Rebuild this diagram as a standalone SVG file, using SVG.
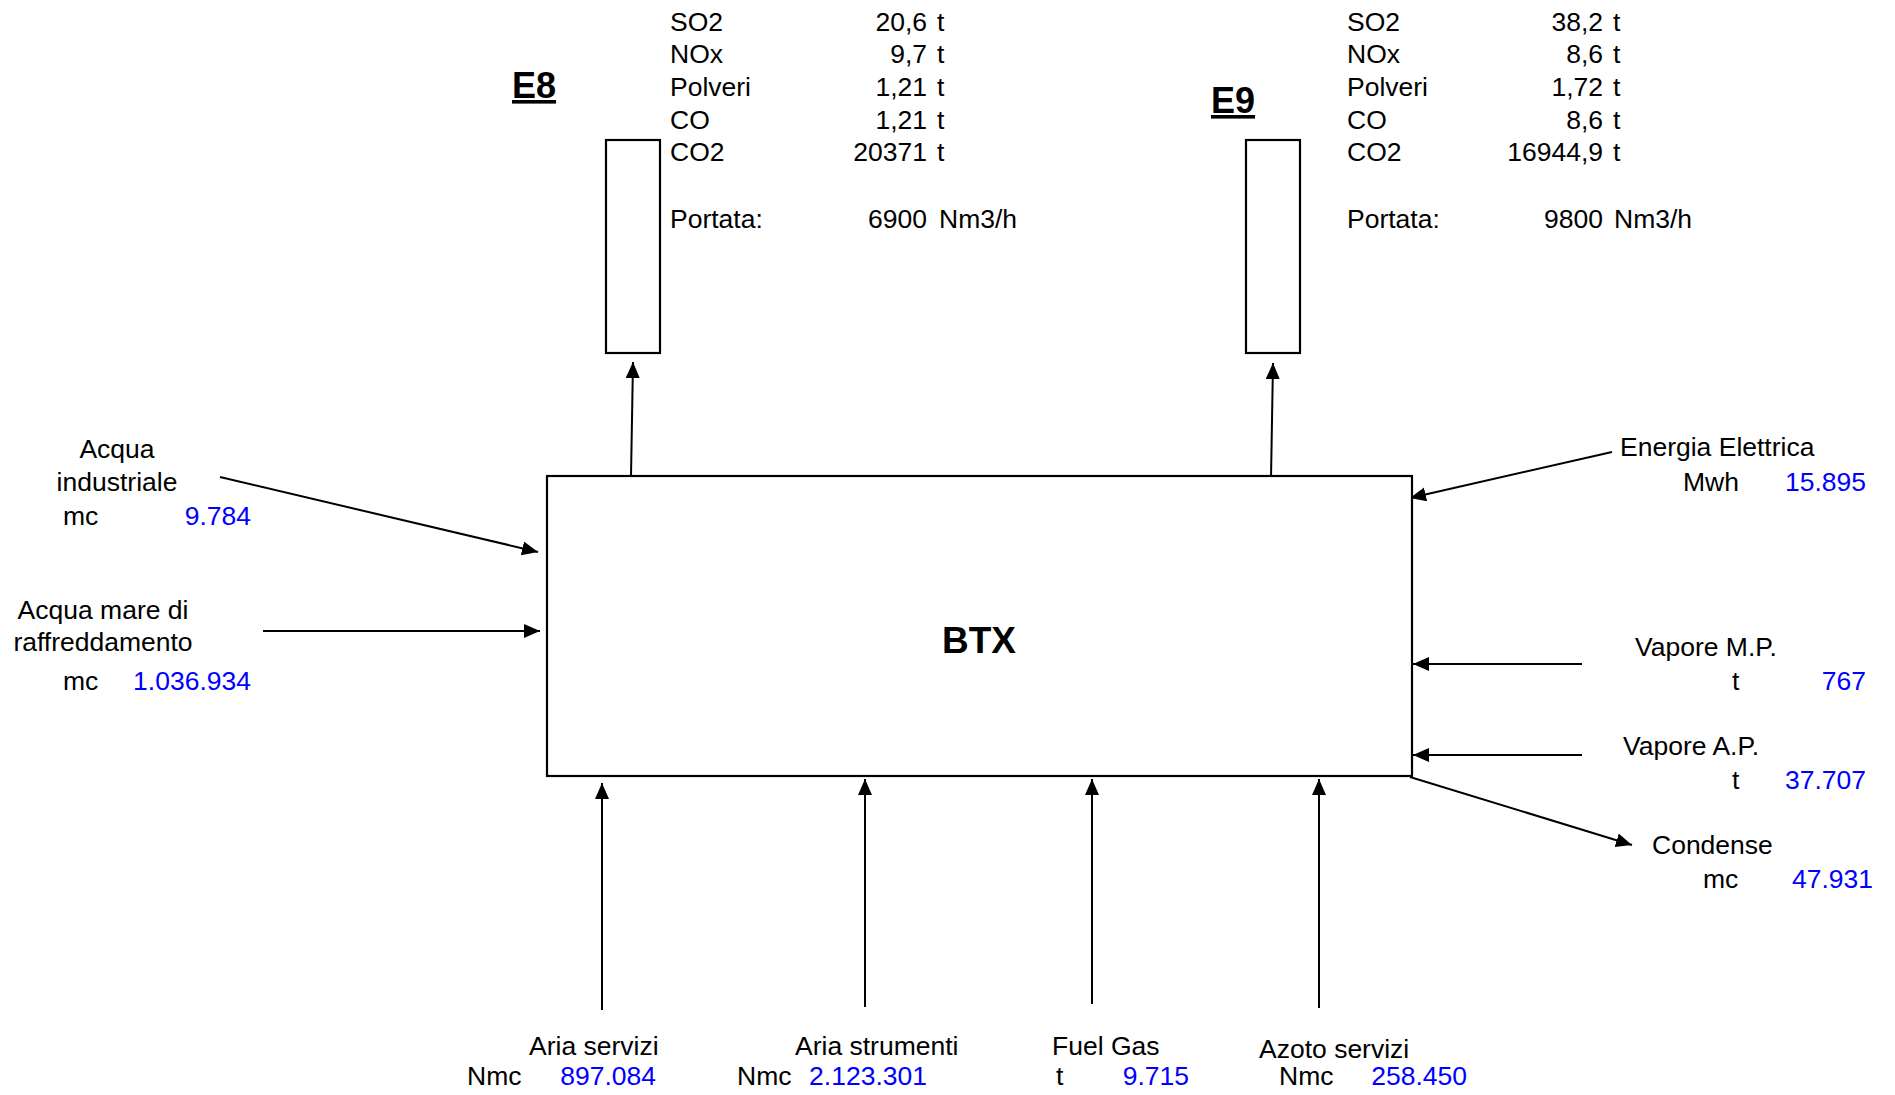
<svg xmlns="http://www.w3.org/2000/svg" width="1895" height="1095" viewBox="0 0 1895 1095">
<style>
text{font-family:"Liberation Sans",Arial,sans-serif;font-size:26.5px;fill:#000}
.v{fill:#0000ff}
.e{text-anchor:end}
.m{text-anchor:middle}
.h{font-weight:bold;font-size:36px;text-decoration:underline}
.box{fill:#fff;stroke:#000;stroke-width:2.2}
.c{stroke:#000;stroke-width:2;fill:none;marker-end:url(#ah)}
</style>
<defs>
<marker id="ah" markerUnits="userSpaceOnUse" markerWidth="18" markerHeight="16" refX="16" refY="7" orient="auto">
<path d="M0,0 L16,7 L0,14 z" fill="#000"/>
</marker>
</defs>
<rect width="1895" height="1095" fill="#fff"/>

<g id="connectors">
<line class="c" x1="631" y1="476" x2="633" y2="362"/>
<line class="c" x1="1271" y1="478" x2="1273" y2="363"/>
<line class="c" x1="220" y1="477" x2="538" y2="552"/>
<line class="c" x1="263" y1="631" x2="540" y2="631"/>
<line class="c" x1="1612" y1="452" x2="1410" y2="498"/>
<line class="c" x1="1582" y1="664" x2="1413" y2="664"/>
<line class="c" x1="1582" y1="755" x2="1413" y2="755"/>
<line class="c" x1="1410" y1="777" x2="1632" y2="845"/>
<line class="c" x1="602" y1="1010" x2="602" y2="783"/>
<line class="c" x1="865" y1="1007" x2="865" y2="779"/>
<line class="c" x1="1092" y1="1004" x2="1092" y2="779"/>
<line class="c" x1="1319" y1="1008" x2="1319" y2="779"/>
</g>

<g id="btx">
<rect class="box" x="547" y="476" width="865" height="300"/>
<text x="979" y="653" class="m" style="font-weight:bold;font-size:37px">BTX</text>
</g>

<g id="e8">
<rect class="box" x="606" y="140" width="54" height="213"/>
<text x="512" y="98" class="h">E8</text>
<text x="670" y="31">SO2</text><text x="927" y="31" class="e">20,6</text><text x="937" y="31">t</text>
<text x="670" y="63">NOx</text><text x="927" y="63" class="e">9,7</text><text x="937" y="63">t</text>
<text x="670" y="96">Polveri</text><text x="927" y="96" class="e">1,21</text><text x="937" y="96">t</text>
<text x="670" y="129">CO</text><text x="927" y="129" class="e">1,21</text><text x="937" y="129">t</text>
<text x="670" y="161">CO2</text><text x="927" y="161" class="e">20371</text><text x="937" y="161">t</text>
<text x="670" y="228">Portata:</text><text x="927" y="228" class="e">6900</text><text x="939" y="228">Nm3/h</text>
</g>

<g id="e9">
<rect class="box" x="1246" y="140" width="54" height="213"/>
<text x="1211" y="113" class="h">E9</text>
<text x="1347" y="31">SO2</text><text x="1603" y="31" class="e">38,2</text><text x="1613" y="31">t</text>
<text x="1347" y="63">NOx</text><text x="1603" y="63" class="e">8,6</text><text x="1613" y="63">t</text>
<text x="1347" y="96">Polveri</text><text x="1603" y="96" class="e">1,72</text><text x="1613" y="96">t</text>
<text x="1347" y="129">CO</text><text x="1603" y="129" class="e">8,6</text><text x="1613" y="129">t</text>
<text x="1347" y="161">CO2</text><text x="1603" y="161" class="e">16944,9</text><text x="1613" y="161">t</text>
<text x="1347" y="228">Portata:</text><text x="1603" y="228" class="e">9800</text><text x="1614" y="228">Nm3/h</text>
</g>

<g id="acqua-industriale">
<text x="117" y="458" class="m">Acqua</text>
<text x="117" y="491" class="m">industriale</text>
<text x="63" y="525">mc</text><text x="251" y="525" class="e v">9.784</text>
</g>

<g id="acqua-mare">
<text x="103" y="619" class="m">Acqua mare di</text>
<text x="103" y="651" class="m">raffreddamento</text>
<text x="63" y="690">mc</text><text x="251" y="690" class="e v">1.036.934</text>
</g>

<g id="energia-elettrica">
<text x="1620" y="456">Energia Elettrica</text>
<text x="1683" y="491">Mwh</text><text x="1866" y="491" class="e v">15.895</text>
</g>

<g id="vapore-mp">
<text x="1635" y="656">Vapore M.P.</text>
<text x="1732" y="690">t</text><text x="1866" y="690" class="e v">767</text>
</g>

<g id="vapore-ap">
<text x="1623" y="755">Vapore A.P.</text>
<text x="1732" y="789">t</text><text x="1866" y="789" class="e v">37.707</text>
</g>

<g id="condense">
<text x="1652" y="854">Condense</text>
<text x="1703" y="888">mc</text><text x="1873" y="888" class="e v">47.931</text>
</g>

<g id="aria-servizi">
<text x="529" y="1055">Aria servizi</text>
<text x="467" y="1085">Nmc</text><text x="656" y="1085" class="e v">897.084</text>
</g>

<g id="aria-strumenti">
<text x="795" y="1055">Aria strumenti</text>
<text x="737" y="1085">Nmc</text><text x="927" y="1085" class="e v">2.123.301</text>
</g>

<g id="fuel-gas">
<text x="1052" y="1055">Fuel Gas</text>
<text x="1056" y="1085">t</text><text x="1189" y="1085" class="e v">9.715</text>
</g>

<g id="azoto-servizi">
<text x="1259" y="1058">Azoto servizi</text>
<text x="1279" y="1085">Nmc</text><text x="1467" y="1085" class="e v">258.450</text>
</g>
</svg>
